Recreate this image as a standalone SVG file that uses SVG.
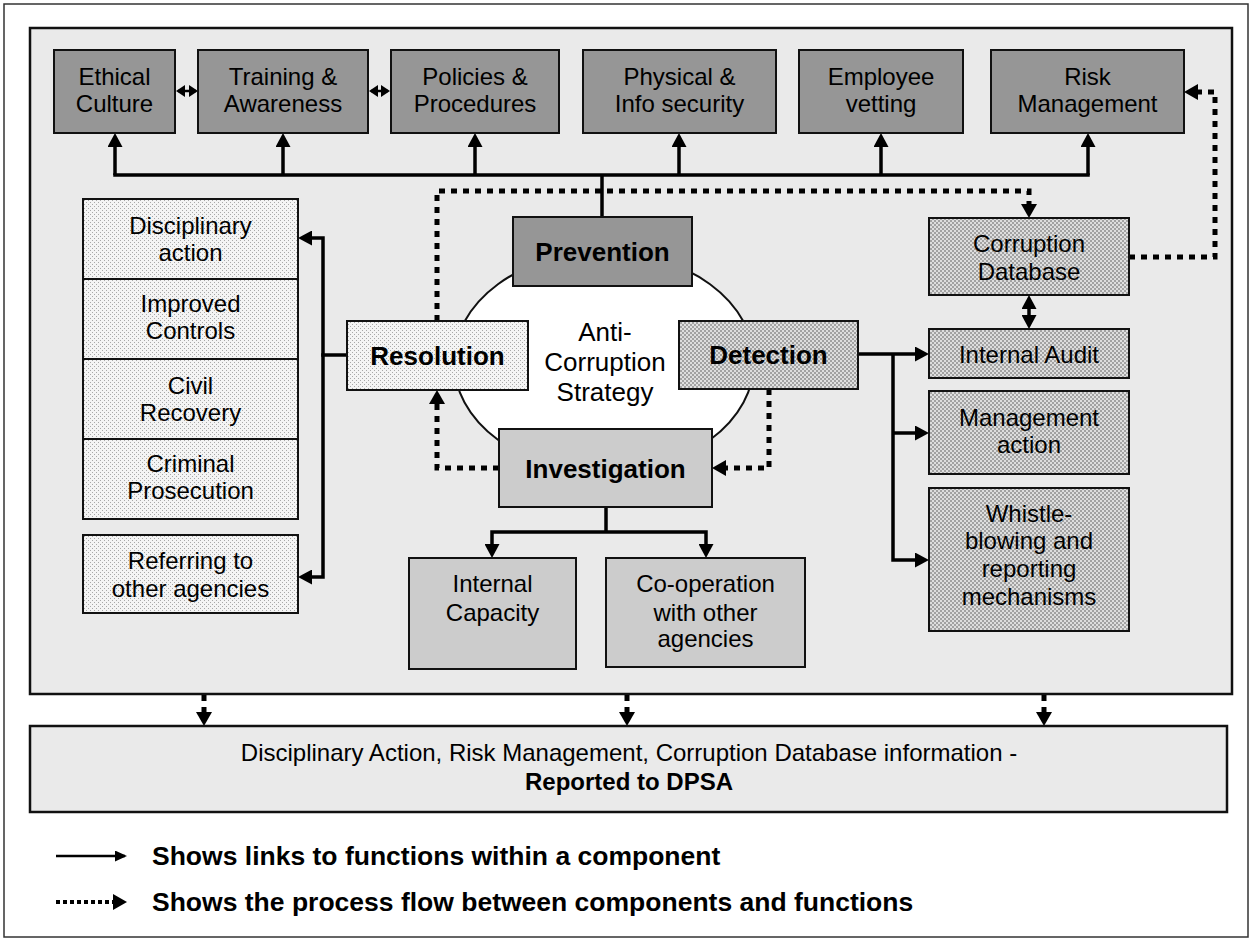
<svg xmlns="http://www.w3.org/2000/svg" width="1252" height="941" viewBox="0 0 1252 941">
  <style>
    text { font-family: "Liberation Sans", Arial, Helvetica, sans-serif; fill: #000; text-anchor: middle; }
    .t { font-size: 24px; }
    .b { font-size: 26px; font-weight: bold; }
    .c { font-size: 26px; }
    .lg { font-size: 26.5px; font-weight: bold; text-anchor: start; }
    .box { stroke: #111; stroke-width: 2; }
    .dark { fill: #969696; }
    .mid { fill: #cccccc; }
    .dot { fill: url(#dots); }
    .hat { fill: url(#hatch); }
    .solid { fill: none; stroke: #000; stroke-width: 3.5; }
    .bus { fill: none; stroke: #000; stroke-width: 3.5; stroke-linecap: square; }
    .dash { fill: none; stroke: #000; stroke-width: 5; stroke-dasharray: 6 6; }
  </style>
  <defs>
    <!-- light dotted fill used by the resolution family -->
    <pattern id="dots" width="4" height="4" patternUnits="userSpaceOnUse">
      <rect width="4" height="4" fill="#f4f4f4"/>
      <rect x="0" y="0" width="1" height="1" fill="#a8a8a8"/>
      <rect x="2" y="2" width="1" height="1" fill="#a8a8a8"/>
    </pattern>
    <!-- checkered fill used by the detection family -->
    <pattern id="hatch" width="4" height="4" patternUnits="userSpaceOnUse">
      <rect width="4" height="4" fill="#a2a2a2"/>
      <rect x="0" y="0" width="2" height="2" fill="#dedede"/>
      <rect x="2" y="2" width="2" height="2" fill="#dedede"/>
    </pattern>
    <marker id="ah" viewBox="0 0 14 15" refX="10" refY="7.5" markerWidth="14" markerHeight="15" markerUnits="userSpaceOnUse" orient="auto-start-reverse">
      <path d="M0,0 L14,7.5 L0,15 z" fill="#000"/>
    </marker>
    <marker id="sh" viewBox="0 0 9 12" refX="7" refY="6" markerWidth="9" markerHeight="12" markerUnits="userSpaceOnUse" orient="auto-start-reverse">
      <path d="M0,0 L9,6 L0,12 z" fill="#000"/>
    </marker>
    <marker id="dh" viewBox="0 0 14 16" refX="9" refY="8" markerWidth="14" markerHeight="16" markerUnits="userSpaceOnUse" orient="auto-start-reverse">
      <path d="M0,0 L14,8 L0,16 z" fill="#000"/>
    </marker>
    <marker id="lh" viewBox="0 0 12 11" refX="10" refY="5.5" markerWidth="12" markerHeight="11" markerUnits="userSpaceOnUse" orient="auto">
      <path d="M0,0 L12,5.5 L0,11 z" fill="#000"/>
    </marker>
  </defs>

  <!-- page frame and main panel -->
  <rect x="4" y="4" width="1244" height="933" fill="#fff" stroke="#333" stroke-width="1.5"/>
  <rect x="30" y="28" width="1202" height="666" fill="#eaeaea" stroke="#111" stroke-width="2.5"/>

  <!-- connectors -->
  <g id="connectors">
    <path class="bus" d="M115,175 H1088"/>
    <path class="solid" d="M115,175 V137" marker-end="url(#ah)"/>
    <path class="solid" d="M283,175 V137" marker-end="url(#ah)"/>
    <path class="solid" d="M475,175 V137" marker-end="url(#ah)"/>
    <path class="solid" d="M679,175 V137" marker-end="url(#ah)"/>
    <path class="solid" d="M881,175 V137" marker-end="url(#ah)"/>
    <path class="solid" d="M1088,175 V137" marker-end="url(#ah)"/>
    <path class="solid" d="M602,175 V217"/>
    <path fill="none" stroke="#000" stroke-width="2.5" d="M178,91 H196" marker-start="url(#sh)" marker-end="url(#sh)"/>
    <path fill="none" stroke="#000" stroke-width="2.5" d="M371,91 H388" marker-start="url(#sh)" marker-end="url(#sh)"/>

    <path class="bus" d="M347,355 H323"/>
    <path class="solid" d="M302,238 H323 V577 H302" marker-start="url(#ah)" marker-end="url(#ah)"/>

    <path class="solid" d="M858,354 H925" marker-end="url(#ah)"/>
    <path class="solid" d="M893,354 V560 H925" marker-end="url(#ah)"/>
    <path class="solid" d="M893,433 H925" marker-end="url(#ah)"/>
    <path class="solid" d="M1029,299 V325" marker-start="url(#ah)" marker-end="url(#ah)"/>

    <path class="solid" d="M606,507 V532"/>
    <path class="solid" d="M492,554 V532 H706 V554" marker-start="url(#ah)" marker-end="url(#ah)"/>

    <path class="dash" d="M437,321 V191 H1029 V213" marker-end="url(#dh)"/>
    <path class="dash" d="M1129,257 H1215 V92 H1189" marker-end="url(#dh)"/>
    <path class="dash" d="M769,389 V468 H717" marker-end="url(#dh)"/>
    <path class="dash" d="M499,468 H437 V395" marker-end="url(#dh)"/>

    <path class="dash" d="M204,695 V721" marker-end="url(#dh)"/>
    <path class="dash" d="M627,695 V721" marker-end="url(#dh)"/>
    <path class="dash" d="M1044,695 V721" marker-end="url(#dh)"/>
  </g>

  <!-- strategy core -->
  <g id="core">
    <ellipse cx="604" cy="362" rx="150" ry="110" fill="#fff" stroke="#111" stroke-width="2"/>
    <text class="c" x="605" y="341">Anti-</text>
    <text class="c" x="605" y="371">Corruption</text>
    <text class="c" x="605" y="401">Strategy</text>
  </g>

  <!-- prevention functions -->
  <g id="ethical-culture">
    <rect class="box dark" x="54" y="50" width="121" height="83"/>
    <text class="t" x="114.5" y="85">Ethical</text>
    <text class="t" x="114.5" y="112">Culture</text>
  </g>
  <g id="training-awareness">
    <rect class="box dark" x="198" y="50" width="170" height="83"/>
    <text class="t" x="283" y="85">Training &amp;</text>
    <text class="t" x="283" y="112">Awareness</text>
  </g>
  <g id="policies-procedures">
    <rect class="box dark" x="391" y="50" width="168" height="83"/>
    <text class="t" x="475" y="85">Policies &amp;</text>
    <text class="t" x="475" y="112">Procedures</text>
  </g>
  <g id="physical-info-security">
    <rect class="box dark" x="583" y="50" width="193" height="83"/>
    <text class="t" x="679.5" y="85">Physical &amp;</text>
    <text class="t" x="679.5" y="112">Info security</text>
  </g>
  <g id="employee-vetting">
    <rect class="box dark" x="799" y="50" width="164" height="83"/>
    <text class="t" x="881" y="85">Employee</text>
    <text class="t" x="881" y="112">vetting</text>
  </g>
  <g id="risk-management">
    <rect class="box dark" x="991" y="50" width="193" height="83"/>
    <text class="t" x="1087.5" y="85">Risk</text>
    <text class="t" x="1087.5" y="112">Management</text>
  </g>

  <!-- components -->
  <g id="prevention">
    <rect class="box dark" x="513" y="217" width="179" height="69"/>
    <text class="b" x="602.5" y="261">Prevention</text>
  </g>
  <g id="resolution">
    <rect class="box dot" x="347" y="321" width="181" height="69"/>
    <text class="b" x="437.5" y="365">Resolution</text>
  </g>
  <g id="detection">
    <rect class="box hat" x="679" y="321" width="179" height="68"/>
    <text class="b" x="768.5" y="364">Detection</text>
  </g>
  <g id="investigation">
    <rect class="box mid" x="499" y="429" width="213" height="78"/>
    <text class="b" x="605.5" y="478">Investigation</text>
  </g>

  <!-- resolution functions -->
  <g id="disciplinary-action">
    <rect class="box dot" x="83" y="199" width="215" height="80"/>
    <text class="t" x="190.5" y="233.5">Disciplinary</text>
    <text class="t" x="190.5" y="260.5">action</text>
  </g>
  <g id="improved-controls">
    <rect class="box dot" x="83" y="279" width="215" height="80"/>
    <text class="t" x="190.5" y="311.5">Improved</text>
    <text class="t" x="190.5" y="338.5">Controls</text>
  </g>
  <g id="civil-recovery">
    <rect class="box dot" x="83" y="359" width="215" height="80"/>
    <text class="t" x="190.5" y="393.5">Civil</text>
    <text class="t" x="190.5" y="420.5">Recovery</text>
  </g>
  <g id="criminal-prosecution">
    <rect class="box dot" x="83" y="439" width="215" height="80"/>
    <text class="t" x="190.5" y="471.5">Criminal</text>
    <text class="t" x="190.5" y="498.5">Prosecution</text>
  </g>
  <g id="referring-agencies">
    <rect class="box dot" x="83" y="535" width="215" height="78"/>
    <text class="t" x="190.5" y="568.5">Referring to</text>
    <text class="t" x="190.5" y="596.5">other agencies</text>
  </g>

  <!-- detection functions -->
  <g id="corruption-database">
    <rect class="box hat" x="929" y="218" width="200" height="77"/>
    <text class="t" x="1029" y="251.5">Corruption</text>
    <text class="t" x="1029" y="279.5">Database</text>
  </g>
  <g id="internal-audit">
    <rect class="box hat" x="929" y="329" width="200" height="49"/>
    <text class="t" x="1029" y="362.5">Internal Audit</text>
  </g>
  <g id="management-action">
    <rect class="box hat" x="929" y="391" width="200" height="83"/>
    <text class="t" x="1029" y="425.5">Management</text>
    <text class="t" x="1029" y="452.5">action</text>
  </g>
  <g id="whistle-blowing">
    <rect class="box hat" x="929" y="488" width="200" height="143"/>
    <text class="t" x="1029" y="521.5">Whistle-</text>
    <text class="t" x="1029" y="548.5">blowing and</text>
    <text class="t" x="1029" y="576.5">reporting</text>
    <text class="t" x="1029" y="604.5">mechanisms</text>
  </g>

  <!-- investigation functions -->
  <g id="internal-capacity">
    <rect class="box mid" x="409" y="558" width="167" height="111"/>
    <text class="t" x="492.5" y="591.5">Internal</text>
    <text class="t" x="492.5" y="620.5">Capacity</text>
  </g>
  <g id="co-operation">
    <rect class="box mid" x="606" y="558" width="199" height="109"/>
    <text class="t" x="705.5" y="591.5">Co-operation</text>
    <text class="t" x="705.5" y="620.5">with other</text>
    <text class="t" x="705.5" y="646.5">agencies</text>
  </g>

  <!-- reporting -->
  <g id="dpsa-report">
    <rect x="30" y="726" width="1197" height="86" fill="#eaeaea" stroke="#111" stroke-width="2.5"/>
    <text class="t" x="629" y="760.5">Disciplinary Action, Risk Management, Corruption Database information -</text>
    <text class="t" x="629" y="789.5" font-weight="bold">Reported to DPSA</text>
  </g>

  <!-- key -->
  <g id="legend">
    <path fill="none" stroke="#000" stroke-width="2.5" d="M56,856 H125" marker-end="url(#lh)"/>
    <text class="lg" x="152" y="865">Shows links to functions within a component</text>
    <path fill="none" stroke="#000" stroke-width="4" stroke-dasharray="4 3" d="M56,902 H122" marker-end="url(#dh)"/>
    <text class="lg" x="152" y="911">Shows the process flow between components and functions</text>
  </g>
</svg>
